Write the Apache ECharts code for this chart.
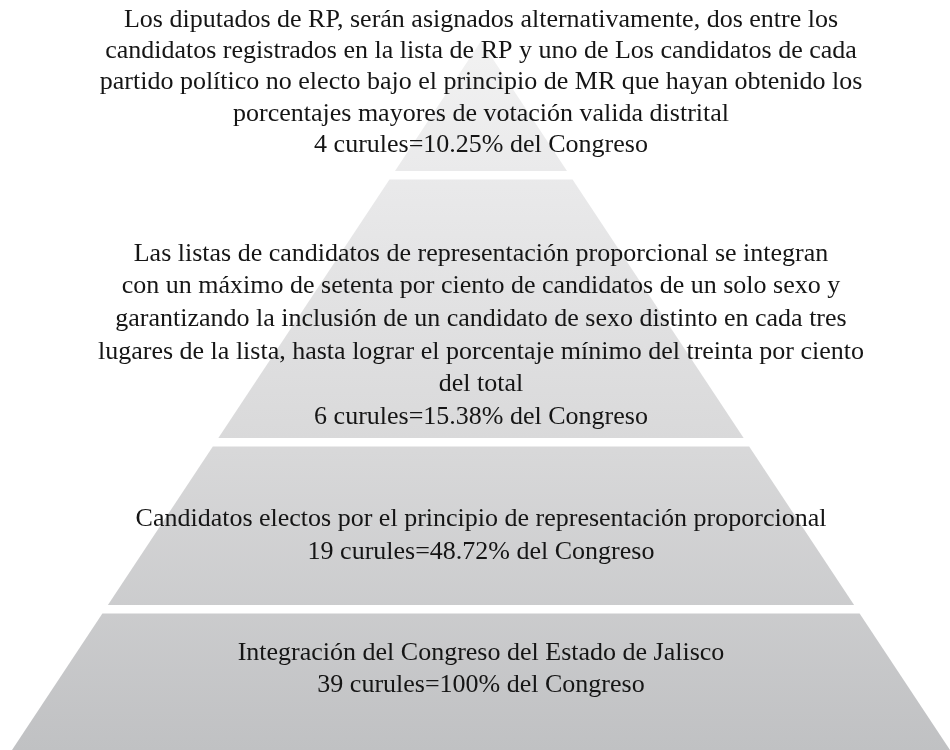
<!DOCTYPE html>
<html>
<head>
<meta charset="utf-8">
<script src="https://cdn.jsdelivr.net/npm/echarts@6/dist/echarts.min.js"></script>
<style>
  html, body { margin: 0; padding: 0; background: #ffffff; }
  #main { width: 950px; height: 750px; }
</style>
</head>
<body>
<div id="main"></div>
<script>
// niveles de la pirámide, de arriba hacia abajo
const tierText = [
    'Los diputados de RP, serán asignados alternativamente, dos entre los\ncandidatos registrados en la lista de RP y uno de Los candidatos de cada\npartido político no electo bajo el principio de MR que hayan obtenido los\nporcentajes mayores de votación valida distrital',
    'Las listas de candidatos de representación proporcional se integran\ncon un máximo de setenta por ciento de candidatos de un solo sexo y\ngarantizando la inclusión de un candidato de sexo distinto en cada tres\nlugares de la lista, hasta lograr el porcentaje mínimo del treinta por ciento\ndel total',
    'Candidatos electos por el principio de representación proporcional',
    'Integración del Congreso del Estado de Jalisco'
]
const tierSeats = [4, 6, 19, 39]
const tierPercent = ['10.25', '15.38', '48.72', '100']

// forma: fracción de la altura (0 = vértice, 1 = base)
const tierBottom = [0.1834, 0.56, 0.7955, 1]
const tierGap = 0.0118
const labelCenter = [0.0585, 0.4155, 0.6975, 0.8862]
const tierLineHeight = [31.4, 32.7, 32.3, 31.8]

const chart = echarts.init(document.getElementById('main'))

const option = {
    animation: false,
    grid: {left: 12, top: 41, width: 940, height: 709},
    xAxis: {type: 'value', min: -1, max: 1, show: false},
    yAxis: {type: 'value', min: 0, max: 1, inverse: true, show: false},
    series: [
        {
            type: 'custom',
            coordinateSystem: 'cartesian2d',
            data: tierSeats.map((s, i) => [i, s]),
            renderItem: function (params, api) {
                const i = api.value(0)
                const top = i === 0 ? 0 : tierBottom[i - 1] + tierGap
                const bottom = tierBottom[i]
                const pts = [
                    api.coord([-top, top]),
                    api.coord([top, top]),
                    api.coord([bottom, bottom]),
                    api.coord([-bottom, bottom])
                ]
                const y0 = api.coord([0, 0])[1]
                const y1 = api.coord([0, 1])[1]
                const c = api.coord([0, labelCenter[i]])
                return {
                    type: 'group',
                    children: [
                        {
                            type: 'polygon',
                            shape: {points: pts},
                            style: {
                                // degradado gris de todo el triángulo
                                fill: new echarts.graphic.LinearGradient(0, y0, 0, y1, [
                                    {offset: 0, color: '#f2f2f2'},
                                    {offset: 0.1834, color: '#eaeaeb'},
                                    {offset: 0.56, color: '#d9d9da'},
                                    {offset: 1, color: '#c0c1c3'}
                                ], true)
                            }
                        },
                        {
                            type: 'text',
                            z2: 10,
                            style: {
                                text: tierText[i] + '\n' + tierSeats[i] + ' curules=' + tierPercent[i] + '% del Congreso',
                                x: c[0],
                                y: c[1],
                                align: 'center',
                                verticalAlign: 'middle',
                                fontFamily: 'Liberation Serif',
                                fontSize: 26,
                                lineHeight: tierLineHeight[i],
                                fill: '#151515'
                            }
                        }
                    ]
                }
            }
        }
    ]
}

chart.setOption(option)
window.addEventListener('resize', () => {
    chart.resize()
})
</script>
</body>
</html>
